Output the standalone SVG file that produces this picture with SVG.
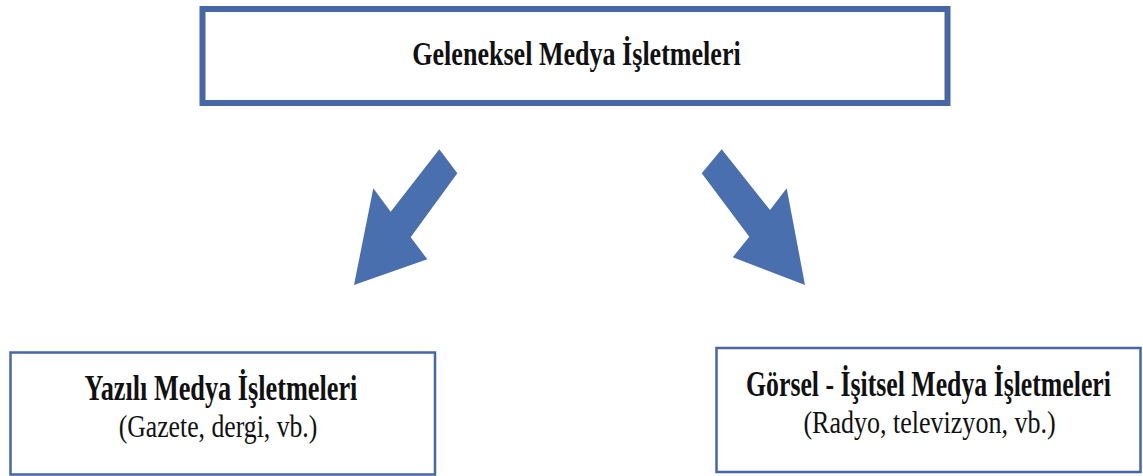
<svg xmlns="http://www.w3.org/2000/svg" width="1143" height="476" viewBox="0 0 1143 476">
<style>
.box{fill:#ffffff;stroke:#4766a6}
.t{font-family:"Liberation Serif","Times New Roman",serif;fill:#111111;text-anchor:middle}
.b{font-weight:bold}
.arrow{fill:#4a6fae}
</style>
<rect width="1143" height="476" fill="#ffffff"/>
<g id="node-top">
<rect class="box" x="202.5" y="9" width="745" height="94" stroke-width="6"/>
<text class="t b" transform="translate(576.5,65) scale(0.79,1)" font-size="33">Geleneksel Medya İşletmeleri</text>
</g>
<g id="node-yazili">
<rect class="box" x="10.5" y="352.5" width="424.5" height="122" stroke-width="2.5"/>
<text class="t b" transform="translate(221,400) scale(0.73,1)" font-size="36">Yazılı Medya İşletmeleri</text>
<text class="t" transform="translate(218,437) scale(0.83,1)" font-size="31">(Gazete, dergi, vb.)</text>
</g>
<g id="node-gorsel">
<rect class="box" x="716.5" y="348" width="424" height="124" stroke-width="2.5"/>
<text class="t b" transform="translate(928.5,396) scale(0.716,1)" font-size="36">Görsel - İşitsel Medya İşletmeleri</text>
<text class="t" transform="translate(929.5,433) scale(0.84,1)" font-size="31">(Radyo, televizyon, vb.)</text>
</g>
<g id="connectors">
<polygon class="arrow" points="439.3,149.3 457.3,173.3 410.7,237.3 427.3,259.3 354,285 373.3,188.3 390.7,211.7"/>
<polygon class="arrow" points="721.7,149.3 701.7,173.3 749.3,236.7 732.7,257.3 805,285 786.7,188.3 770,210"/>
</g>
</svg>
